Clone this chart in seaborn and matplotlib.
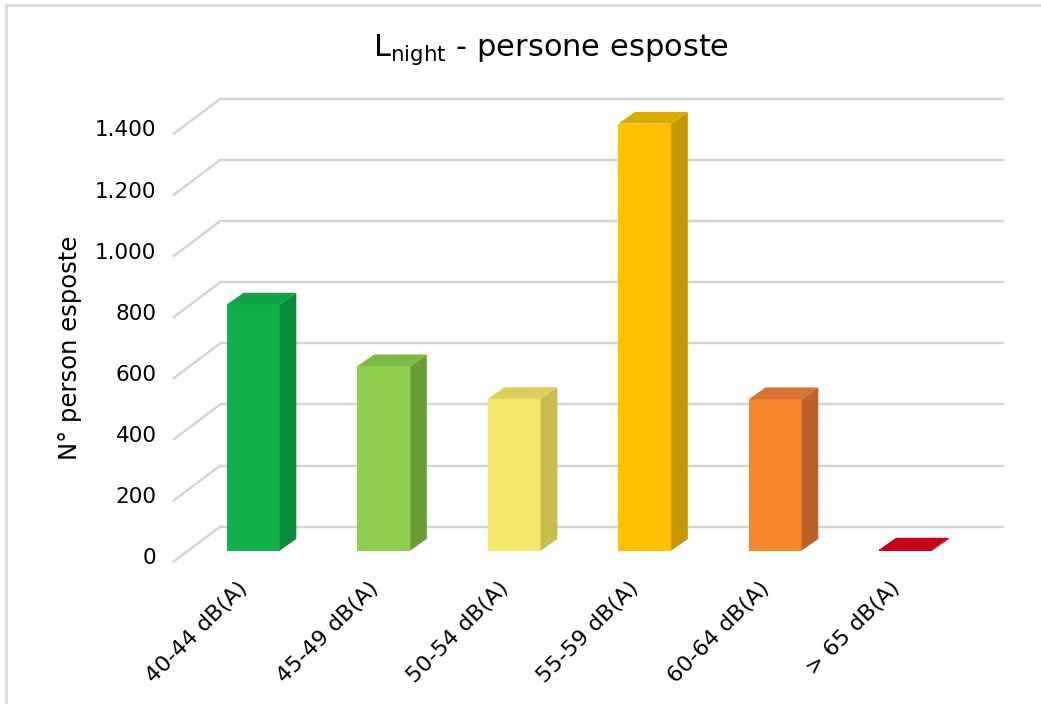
import matplotlib
matplotlib.use("Agg")
import matplotlib.pyplot as plt
import numpy as np
import pandas as pd
import seaborn as sns
from matplotlib import transforms
from matplotlib.patches import Polygon
from matplotlib.lines import Line2D

# Exposed population per Lnight noise band
categories = ["40-44 dB(A)", "45-49 dB(A)", "50-54 dB(A)", "55-59 dB(A)", "60-64 dB(A)", "> 65 dB(A)"]
persons = [806, 604, 497, 1398, 496, 4]

y_ticks = [0, 200, 400, 600, 800, 1000, 1200, 1400]
y_tick_labels = ["0", "200", "400", "600", "800", "1.000", "1.200", "1.400"]

front_colors = ["#10b14b", "#8fd14f", "#f7e66c", "#ffc000", "#f5872f", "#d6001c"]
side_colors = ["#0a8a3b", "#6a9f36", "#c8bc4e", "#c49700", "#bf6229", "#a30015"]
top_colors = ["#14a046", "#7cbc42", "#dccf5b", "#d9aa00", "#d97530", "#c4001a"]

sns.set_theme(style="white")
plt.rcParams["font.family"] = ["DejaVu Sans"]
plt.rcParams["mathtext.default"] = "regular"

W, H = 1041, 704
fig = plt.figure(figsize=(W / 100, H / 100), dpi=100)
fig.patch.set_facecolor("white")

# axes = the plane of the bars' front faces
ax = fig.add_axes([188 / W, 1 - 550.7 / H, 783 / W, 427.7 / H])
ax.set_facecolor("none")

df = pd.DataFrame({"fascia": categories, "persone": persons})
sns.barplot(data=df, x="fascia", y="persone", hue="fascia", palette=front_colors,
            saturation=1, width=0.404, legend=False, ax=ax, zorder=3,
            linewidth=0, errorbar=None)

ax.set_xlim(-0.5, len(categories) - 0.5)
ax.set_ylim(0, 1400)
for s in ax.spines.values():
    s.set_visible(False)
ax.set_xticks([])
ax.set_yticks([])
ax.set_xlabel("")
ax.set_ylabel("")

# pixel offsets of the 3D box (display coords, y up)
FRONT = (-14.5, -11.0)
BACK = (32.2, 24.1)
BAR_D = (16.7, 11.7)
ident = transforms.IdentityTransform()
grid_col = "#d4d4d4"

back_tr = transforms.offset_copy(ax.transData, fig=fig, x=BACK[0], y=BACK[1], units="dots")
x_lo, x_hi = ax.get_xlim()
for v in y_ticks:
    ax.add_line(Line2D([x_lo, x_hi], [v, v], transform=back_tr, color=grid_col,
                       lw=1.7, clip_on=False, zorder=1, solid_capstyle="round"))
    px, py = ax.transData.transform((x_lo, v))
    ax.add_line(Line2D([px + FRONT[0], px + BACK[0]], [py + FRONT[1], py + BACK[1]],
                       transform=ident, color=grid_col, lw=1.7, clip_on=False,
                       zorder=1, solid_capstyle="round"))

# side and top faces of each bar
bars = sorted(ax.patches, key=lambda p: p.get_x())
for bar, sc, tc in zip(bars, side_colors, top_colors):
    x0, y0 = bar.get_x(), bar.get_y()
    w, h = bar.get_width(), bar.get_height()
    br = ax.transData.transform((x0 + w, y0))
    tr = ax.transData.transform((x0 + w, y0 + h))
    tl = ax.transData.transform((x0, y0 + h))
    d = np.array(BAR_D)
    side = Polygon([br, tr, tr + d, br + d], closed=True, transform=ident,
                   facecolor=sc, edgecolor="none", zorder=3, clip_on=False)
    top = Polygon([tl, tr, tr + d, tl + d], closed=True, transform=ident,
                  facecolor=tc, edgecolor="none", zorder=3, clip_on=False)
    ax.add_patch(side)
    ax.add_patch(top)

# y tick labels at the front edge of the left wall
ytick_tr = transforms.offset_copy(ax.transData, fig=fig, x=FRONT[0] - 17, y=FRONT[1] + 3.5, units="dots")
for v, lab in zip(y_ticks, y_tick_labels):
    ax.text(x_lo, v, lab, transform=ytick_tr, ha="right", va="center",
            fontsize=15.5, color="black", clip_on=False)

# rotated category labels
xtick_tr = transforms.offset_copy(ax.transData, fig=fig, x=-9, y=-34, units="dots")
for i, lab in enumerate(categories):
    ax.text(i, 0, lab, transform=xtick_tr, rotation=45, rotation_mode="anchor",
            ha="right", va="center", fontsize=16, color="black", clip_on=False)

fig.text(551 / W, 1 - 50 / H, r"L$_{night}$ - persone esposte", fontsize=22,
         ha="center", va="center", color="black")
fig.text(70 / W, 1 - 348 / H, "N° person esposte", rotation=90, fontsize=17.5,
         ha="center", va="center", color="black")

# chart area border
fig.add_artist(Line2D([5.5 / W, 5.5 / W], [0, 1 - 4.5 / H], transform=fig.transFigure,
                      color="#d9d9d9", lw=2))
fig.add_artist(Line2D([5.5 / W, 1], [1 - 4.5 / H, 1 - 4.5 / H], transform=fig.transFigure,
                      color="#d9d9d9", lw=2))

fig.savefig("out.png", dpi=100, facecolor="white")
